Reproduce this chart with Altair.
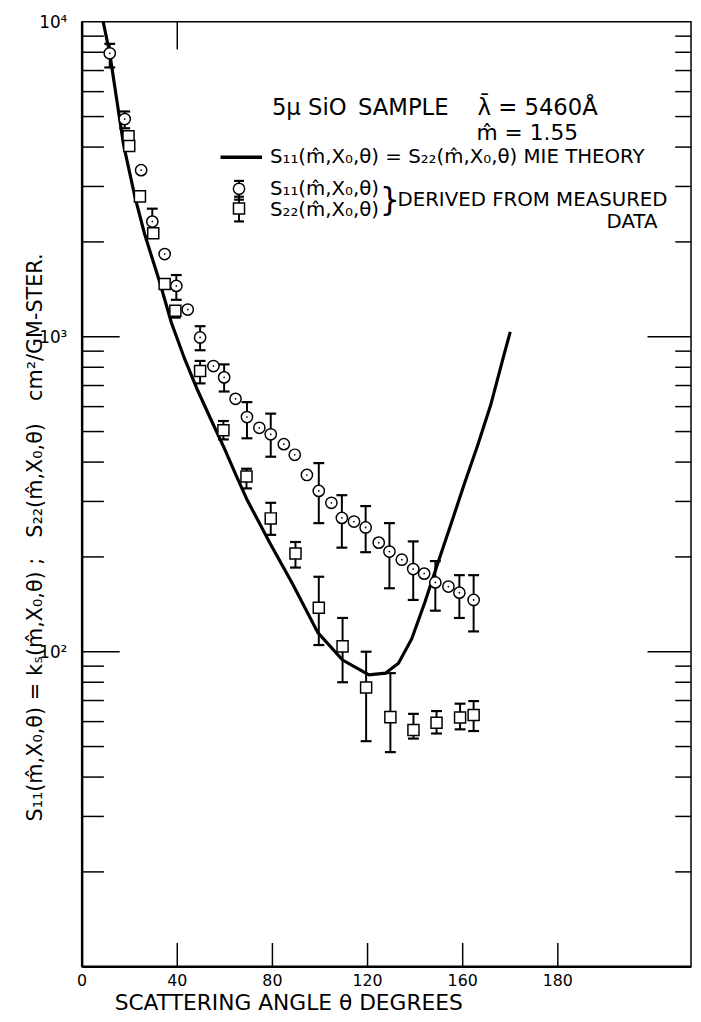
import math
import altair as alt
import pandas as pd

FONT = "DejaVu Sans"

# ---- Mie theory curve (S11 = S22) ----
theory_theta = [8.85, 11.6, 17.4, 22.2, 26.2, 32.7, 37.5, 43.1, 48.6, 54.1, 59.7, 64.6,
                69.4, 79.0, 88.5, 99.1, 109.5, 120.6, 127.5, 133.0, 138.6, 144.1, 149.6,
                155.2, 160.7, 166.2, 171.8, 177.3, 180.0]
theory_value = [10000, 7935, 4074, 2779, 2127, 1483, 1110, 850, 675, 547, 444, 365,
                303, 221, 164, 115, 94.1, 84.5, 85.5, 91.9, 110, 143.5, 191.6,
                255.7, 341.5, 450, 608, 873, 1036]

# ---- S11 derived from measured data (circles) ----
s11_theta = [11.6, 17.9, 24.8, 29.5, 34.7, 39.6, 44.4, 49.6, 55.2, 59.7, 64.5, 69.3,
             74.5, 79.3, 84.8, 89.4, 94.5, 99.5, 104.8, 109.2, 114.3, 119.2, 124.7,
             129.2, 134.4, 139.2, 143.8, 148.5, 154.0, 158.6, 164.6]
s11_value = [7940, 4910, 3380, 2320, 1830, 1450, 1220, 995, 807, 743, 635, 556,
             514, 490, 456, 422, 364, 324, 297, 266, 259, 248, 222,
             208, 196, 183, 177, 166, 161, 154, 146]
s11_err_theta = [11.6, 17.9, 29.5, 39.6, 49.6, 59.7, 69.3, 79.3, 99.5, 109.2, 119.2,
                 129.2, 139.2, 148.5, 158.6, 164.6]
s11_err_low = [7160, 4590, 2180, 1310, 906, 670, 476, 416, 256, 214, 207,
               159, 146, 135, 128, 116]
s11_err_high = [8510, 5190, 2550, 1570, 1080, 817, 620, 570, 397, 314, 290,
                256, 224, 194, 175, 175]

# ---- S22 derived from measured data (squares) ----
s22_theta = [19.5, 19.8, 24.3, 29.9, 34.7, 39.2, 49.6, 59.4, 69.1, 79.3, 89.7, 99.5,
             109.5, 119.4, 129.6, 139.3, 149.0, 158.9, 164.6]
s22_value = [4330, 4030, 2790, 2130, 1470, 1210, 778, 505, 360, 265, 205, 138,
             104, 77, 62, 56.4, 59.5, 61.8, 63]
s22_err_theta = [39.2, 49.6, 59.4, 69.1, 79.3, 89.7, 99.5, 109.5, 119.4, 129.6, 139.3,
                 149.0, 158.9, 164.6]
s22_err_low = [1150, 711, 472, 330, 235, 185, 105, 80, 52, 48, 53, 55, 56.7, 56]
s22_err_high = [1250, 838, 540, 381, 297, 223, 173, 128, 100, 85.5, 63.5, 64.8, 68.4, 69.7]

# ---- axis ticks and labels ----
x_label_values = [0, 40, 80, 120, 160, 200]
x_label_texts = ["0", "40", "80", "120", "160", "180"]
x_inner_ticks = [40, 80, 120, 160, 200]
x_top_ticks = [40]
y_label_values = [100, 1000, 10000]
y_label_texts = ["10²", "10³", "10⁴"]
y_major_ticks = [100, 1000]
y_minor_ticks = [20, 30, 40, 50, 60, 70, 80, 90,
                 200, 300, 400, 500, 600, 700, 800, 900,
                 2000, 3000, 4000, 5000, 6000, 7000, 8000, 9000]

W, H = 616, 956
OX, OY = 83, 16  # plot origin on the page
X_MAX = 256
Y_MIN, Y_MAX = 10, 10000

x_scale = alt.Scale(domain=[0, X_MAX], nice=False, zero=False)
y_scale = alt.Scale(type="log", domain=[Y_MIN, Y_MAX], nice=False)

theory = pd.DataFrame({"theta": theory_theta, "value": theory_value})
s11 = pd.DataFrame({"theta": s11_theta, "value": s11_value})
s22 = pd.DataFrame({"theta": s22_theta, "value": s22_value})
s11e = pd.DataFrame({"theta": s11_err_theta, "low": s11_err_low, "high": s11_err_high})
s22e = pd.DataFrame({"theta": s22_err_theta, "low": s22_err_low, "high": s22_err_high})
one = pd.DataFrame({"k": [0]})


def X(f="theta"):
    return alt.X(f"{f}:Q", scale=x_scale, axis=None)


def Y(f="value"):
    return alt.Y(f"{f}:Q", scale=y_scale, axis=None)


curve = alt.Chart(theory).mark_line(color="black", strokeWidth=3.2).encode(x=X(), y=Y())


def errbars(df):
    bar = alt.Chart(df).mark_rule(color="black", strokeWidth=2).encode(
        x=X(), y=Y("low"), y2="high")
    cap_lo = alt.Chart(df).mark_tick(color="black", orient="horizontal", size=11,
                                     thickness=2.2, opacity=1).encode(x=X(), y=Y("low"))
    cap_hi = alt.Chart(df).mark_tick(color="black", orient="horizontal", size=11,
                                     thickness=2.2, opacity=1).encode(x=X(), y=Y("high"))
    return bar + cap_lo + cap_hi


circles = alt.Chart(s11).mark_point(shape="circle", size=130, filled=True, fill="white",
                                    stroke="black", strokeWidth=1.5, opacity=1).encode(x=X(), y=Y())
dots = alt.Chart(s11).mark_point(shape="circle", size=3, filled=True, color="black",
                                 opacity=1).encode(x=X(), y=Y())
squares = alt.Chart(s22).mark_point(shape="square", size=125, filled=True, fill="white",
                                    stroke="black", strokeWidth=1.5, opacity=1).encode(x=X(), y=Y())


def hticks(vals, x0, x1, w=1.5):
    return alt.Chart(pd.DataFrame({"v": vals})).mark_rule(color="black", strokeWidth=w).encode(
        y=Y("v"), x=alt.value(x0), x2=alt.value(x1))


def vticks(vals, y0, y1, w=1.5):
    return alt.Chart(pd.DataFrame({"v": vals})).mark_rule(color="black", strokeWidth=w).encode(
        x=X("v"), y=alt.value(y0), y2=alt.value(y1))


ticks = (hticks(y_minor_ticks, 0, 22) + hticks(y_major_ticks, 0, 38) +
         hticks(y_minor_ticks, W - 16, W) + hticks(y_major_ticks, W - 44, W) +
         vticks(x_inner_ticks, H, H - 24) + vticks(x_top_ticks, 0, 28))

# heavier left and bottom axis lines
frame = (
    alt.Chart(one).mark_rule(color="black", strokeWidth=2.5).encode(
        x=alt.value(0), y=alt.value(0), y2=alt.value(H)) +
    alt.Chart(one).mark_rule(color="black", strokeWidth=2.5).encode(
        x=alt.value(0), x2=alt.value(W), y=alt.value(H))
)


def txt(s, x, y, size=20, align="left", angle=0):
    """Text placed in page pixels."""
    return alt.Chart(one).mark_text(text=s, font=FONT, fontSize=size, align=align,
                                    baseline="middle", color="black", angle=angle).encode(
        x=alt.value(x - OX), y=alt.value(y - OY))


def ptxt(s, x, y, size, align):
    """Text placed in plot-area pixels."""
    return alt.Chart(one).mark_text(text=s, font=FONT, fontSize=size, align=align,
                                    baseline="middle", color="black", angle=0).encode(
        x=alt.value(x), y=alt.value(y))


# tick labels at the positions of the axis scale (linear x, log y)
labels = None
for v, t in zip(x_label_values, x_label_texts):
    lab = ptxt(t, v / X_MAX * W, H + 15, 16, "center")
    labels = lab if labels is None else labels + lab
for v, t in zip(y_label_values, y_label_texts):
    ypx = H * (math.log10(Y_MAX) - math.log10(v)) / (math.log10(Y_MAX) - math.log10(Y_MIN))
    labels = labels + ptxt(t, -15, ypx + 1, 17, "right")

annot = (
    txt("5μ SiO", 275, 103, 23) +
    txt("SAMPLE", 362, 103, 23) +
    txt("λ̄ = 5460Å", 483, 103, 23) +
    txt("m̂ = 1.55", 482, 129, 22) +
    txt("S₁₁(m̂,X₀,θ) = S₂₂(m̂,X₀,θ) MIE THEORY", 273, 153, 20) +
    txt("S₁₁(m̂,X₀,θ)", 273, 185, 20) +
    txt("S₂₂(m̂,X₀,θ)", 273, 207, 20) +
    txt("}", 384, 196, 32) +
    txt("DERIVED FROM MEASURED", 402, 196, 20) +
    txt("DATA", 665, 219, 20, align="right") +
    # rotated y-axis title, in its word groups
    txt("S₁₁(m̂,X₀,θ) =", 36, 755, 21, align="center", angle=270) +
    txt("kₛ(m̂,X₀,θ) ;", 36, 618, 21, align="center", angle=270) +
    txt("S₂₂(m̂,X₀,θ)", 36, 480, 21, align="center", angle=270) +
    txt("cm²/GM-STER.", 36, 325, 21, align="center", angle=270) +
    txt("SCATTERING ANGLE θ DEGREES", 292, 1009, 22, align="center")
)

# legend glyphs
lx = 241.7 - OX
leg = (
    alt.Chart(one).mark_rule(color="black", strokeWidth=3.5).encode(
        x=alt.value(223 - OX), x2=alt.value(265 - OX), y=alt.value(153 - OY)) +
    alt.Chart(one).mark_rule(color="black", strokeWidth=2).encode(
        x=alt.value(lx), y=alt.value(177 - OY), y2=alt.value(218 - OY))
)
for yy in [177, 193, 196, 218]:
    leg = leg + alt.Chart(one).mark_rule(color="black", strokeWidth=2.2).encode(
        x=alt.value(lx - 5), x2=alt.value(lx + 5), y=alt.value(yy - OY))
leg = leg + alt.Chart(one).mark_point(shape="circle", size=130, filled=True, fill="white",
                                      stroke="black", strokeWidth=1.5, opacity=1).encode(
    x=alt.value(lx), y=alt.value(185 - OY))
leg = leg + alt.Chart(one).mark_point(shape="square", size=125, filled=True, fill="white",
                                      stroke="black", strokeWidth=1.5, opacity=1).encode(
    x=alt.value(lx), y=alt.value(205 - OY))

chart = alt.layer(
    curve, ticks, frame, errbars(s11e), errbars(s22e), circles, dots, squares,
    labels, annot, leg,
).properties(
    width=W, height=H,
    autosize=alt.AutoSizeParams(type="none"),
    padding={"left": 75, "top": 8, "right": 2, "bottom": 48},
).configure_view(stroke="black", strokeWidth=1.5)

chart.save("out.html", embed_options={"renderer": "svg", "actions": False})
